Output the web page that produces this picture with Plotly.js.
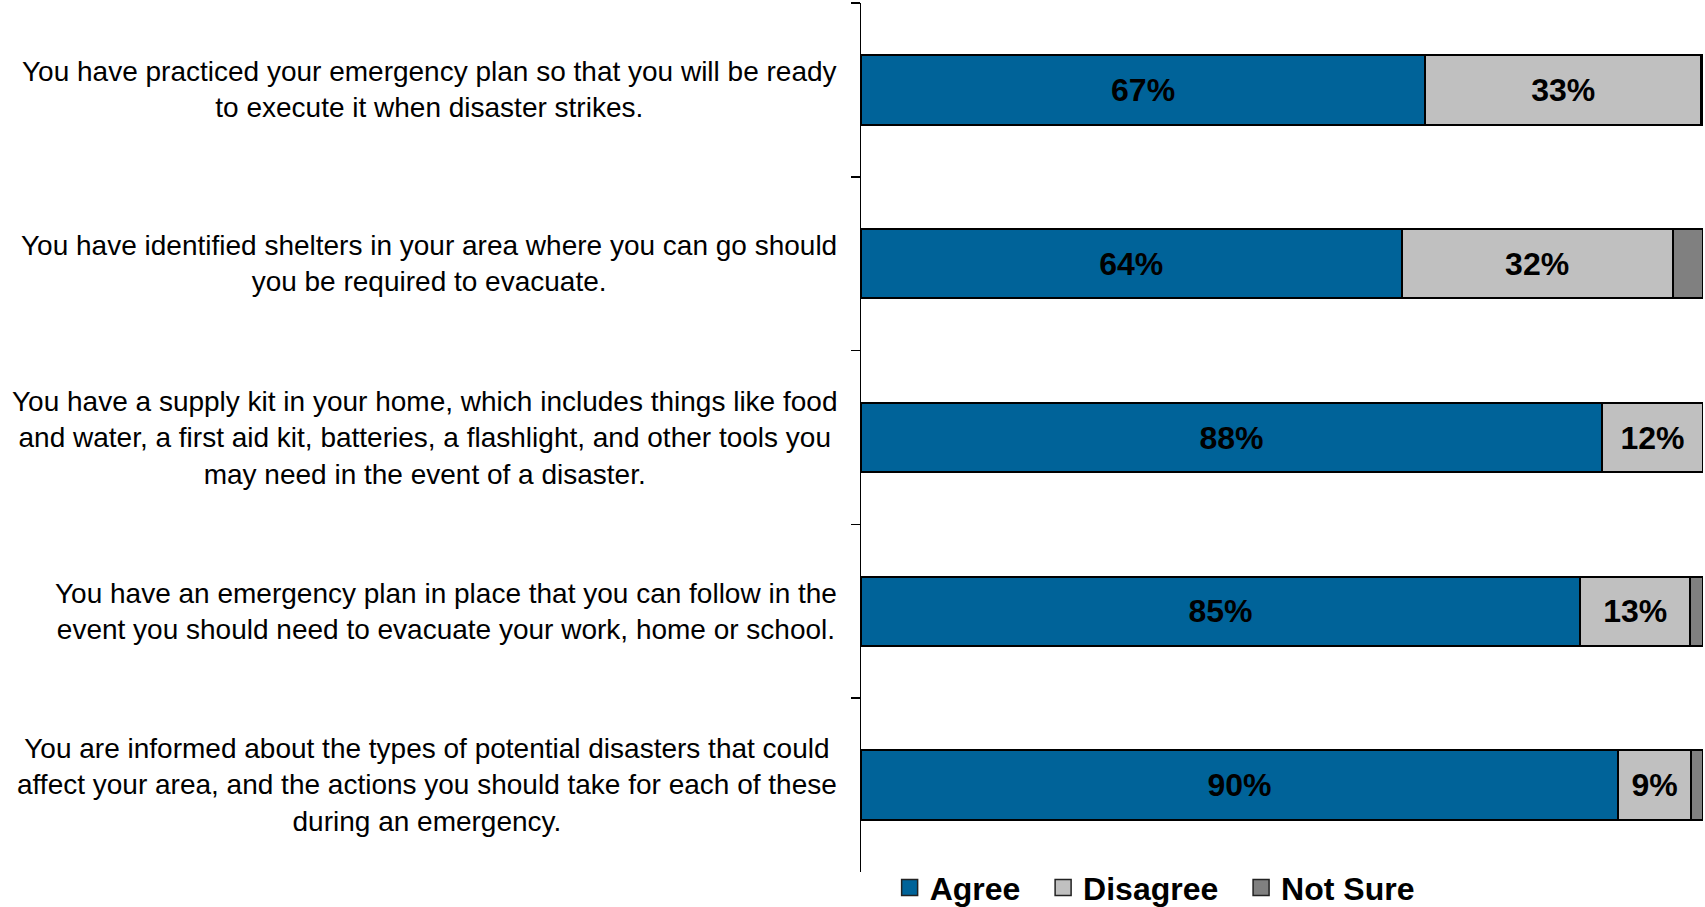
<!DOCTYPE html>
<html>
<head>
<meta charset="utf-8">
<script src="https://cdn.plot.ly/plotly-3.0.1.min.js"></script>
<style>html,body{margin:0;padding:0;background:#fff;}#chart{width:1705px;height:907px;}</style>
</head>
<body>
<div id="chart"></div>
<script>
// Categories, top to bottom
const categories = [
  "You have practiced your emergency plan so that you will be ready<br>to execute it when disaster strikes.",
  "You have identified shelters in your area where you can go should<br>you be required to evacuate.",
  "You have a supply kit in your home, which includes things like food<br>and water, a first aid kit, batteries, a flashlight, and other tools you<br>may need in the event of a disaster.",
  "You have an emergency plan in place that you can follow in the<br>event you should need to evacuate your work, home or school.",
  "You are informed about the types of potential disasters that could<br>affect your area, and the actions you should take for each of these<br>during an emergency."
];
const catIds = ["Q1", "Q2", "Q3", "Q4", "Q5"];
const seriesNames = ["Agree", "Disagree", "Not Sure"];
const agree    = [67, 64.2, 88, 85.4, 89.9];
const disagree = [32.8, 32.2, 12, 13.1, 8.7];
const notSure  = [0.2, 3.6, 0, 1.5, 1.4];
const agreeLabels    = ["67%", "64%", "88%", "85%", "90%"];
const disagreeLabels = ["33%", "32%", "12%", "13%", "9%"];
const seriesColors = ["#006399", "#C0C0C0", "#808080"];

const FONT = "Liberation Sans, Arial, sans-serif";
const outline = {color: "#000000", width: 2};
const labelFont = {family: FONT, size: 32, color: "#000", weight: "bold"};

const traces = [
  {type: "bar", orientation: "h", name: seriesNames[0], y: catIds, x: agree,
   marker: {color: seriesColors[0], line: outline}, showlegend: false,
   text: agreeLabels, textposition: "inside", insidetextanchor: "middle",
   constraintext: "none", textangle: 0, textfont: labelFont, hoverinfo: "skip"},
  {type: "bar", orientation: "h", name: seriesNames[1], y: catIds, x: disagree,
   marker: {color: seriesColors[1], line: outline}, showlegend: false,
   text: disagreeLabels, textposition: "inside", insidetextanchor: "middle",
   constraintext: "none", textangle: 0, textfont: labelFont, hoverinfo: "skip"},
  {type: "bar", orientation: "h", name: seriesNames[2], y: catIds, x: notSure,
   marker: {color: seriesColors[2], line: outline}, showlegend: false,
   textposition: "none", hoverinfo: "skip"}
];

// Legend entries (square swatches)
seriesNames.forEach((n, i) => {
  traces.push({type: "scatter", mode: "markers", x: [null], y: [null],
    name: n + "\u00a0\u00a0", showlegend: true, hoverinfo: "skip",
    marker: {symbol: "square", size: 16, color: seriesColors[i], line: {color: "#222", width: 1.5}}});
});

const annotations = categories.map((c, i) => ({
  xref: "paper", yref: "y", x: 0, y: catIds[i], xanchor: "right", yanchor: "middle",
  xshift: -22, text: c, showarrow: false, align: "center",
  font: {family: FONT, size: 28, color: "#000"}
}));

const layout = {
  width: 1705, height: 907,
  margin: {l: 861, r: 2, t: 3, b: 35, autoexpand: false},
  paper_bgcolor: "#fff", plot_bgcolor: "#fff",
  barmode: "stack", bargap: 0.6,
  showlegend: true,
  legend: {orientation: "h", x: 0.034, xanchor: "left", y: -0.018, yanchor: "middle",
           font: {family: FONT, size: 32, color: "#000", weight: "bold"},
           itemwidth: 30, traceorder: "normal", bgcolor: "rgba(0,0,0,0)"},
  xaxis: {range: [0, 100], visible: false, fixedrange: true},
  yaxis: {type: "category", categoryorder: "array", categoryarray: catIds,
          autorange: "reversed", showticklabels: false, showgrid: false, zeroline: false,
          showline: true, linecolor: "#000", linewidth: 1.5,
          ticks: "outside", tickson: "boundaries", ticklen: 9, tickcolor: "#000", tickwidth: 1.5},
  annotations: annotations
};

Plotly.newPlot("chart", traces, layout, {staticPlot: true, displayModeBar: false});
</script>
</body>
</html>
